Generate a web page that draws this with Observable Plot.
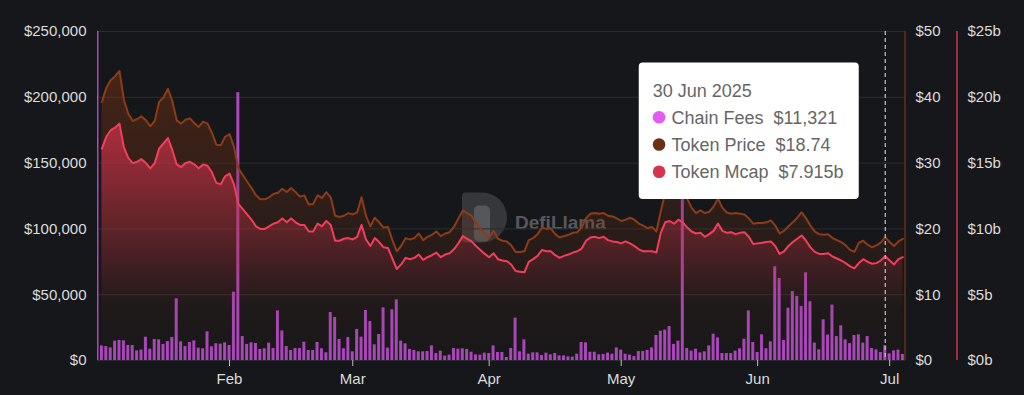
<!DOCTYPE html>
<html><head><meta charset="utf-8">
<script src="https://cdn.jsdelivr.net/npm/d3@7"></script>
<script src="https://cdn.jsdelivr.net/npm/@observablehq/plot@0.6"></script>
<style>
html,body{margin:0;padding:0;background:#16171a;}
#wrap{position:relative;width:1024px;height:395px;overflow:hidden;}
</style>
</head><body><div id="wrap"></div>
<script>
const FONT = '"Liberation Sans", Arial, Helvetica, sans-serif';
const BG = "#16171a";
const feeStart = new Date(Date.UTC(2025, 0, 2));
const priceStart = new Date(Date.UTC(2025, 0, 3));
const hoverDate = new Date(Date.UTC(2025, 5, 30));

// Chain fees (USD/day), Jan 2 – Jul 4 2025
const chainFees = [250000,
 11100,10600,9600,14700,15200,14900,11400,11400,7300,7900,
 17700,8600,16000,15700,12200,14400,17500,46900,14200,10600,
 13700,14900,9400,8900,21800,10400,12700,12400,13400,11400,
 51900,203500,18200,12200,13400,12900,8400,8900,13200,9100,
 37700,22500,10600,7600,9100,9100,13900,7600,7600,13700,
 8900,5800,36500,32700,16000,8900,17500,6600,23600,17700,
 38000,29600,11900,19800,40000,9400,38500,46100,14700,12700,
 8400,7600,6600,6600,6800,11100,5300,7100,3300,4100,
 9100,8600,8900,8400,6300,4300,4100,5600,5300,11100,
 6100,6100,2300,9100,32200,6600,15700,4800,5800,5800,
 3800,5600,4300,5300,3500,3500,2800,2500,4800,13700,
 13400,6300,6300,4300,4600,5600,4800,9600,7900,4800,
 4100,3000,6800,6800,7600,9600,19000,22300,23100,25800,
 12200,14700,180000,9100,7100,8600,5800,6600,11100,20000,
 17200,5300,5300,5300,7100,8900,16200,37700,13700,6100,
 19500,8900,14200,71200,62300,15200,39800,52400,48600,41000,
 66600,44600,13200,8100,30900,19300,42100,18200,26300,15700,
 12900,19000,19500,13200,18200,9100,8100,6100,11321,5100,
 7300,7900,4600];

// Token price (USD), Jan 3 – Jul 4 2025
const tokenPrice = [
 39.3,41.4,42.6,43.2,44.0,39.6,37.5,36.4,36.7,37.1,
 36.5,35.6,36.4,39.3,40.0,41.3,39.4,36.5,36.0,36.6,
 36.8,36.1,35.5,36.3,36.0,34.6,32.8,32.7,34.0,34.4,
 32.5,29.2,28.2,27.2,26.2,25.1,24.5,24.5,24.8,25.3,
 25.5,26.1,25.6,26.2,25.6,24.9,25.1,23.7,23.8,25.1,
 24.7,25.6,24.8,22.0,21.8,22.0,22.4,22.2,22.5,24.8,
 22.0,20.4,21.7,21.0,20.2,20.3,18.3,16.6,17.4,18.6,
 18.4,18.6,19.3,18.3,18.8,19.1,19.6,18.9,19.3,19.5,
 20.3,21.6,22.8,22.4,22.0,20.9,20.1,19.4,18.7,19.7,
 18.5,18.2,18.1,17.5,16.5,16.5,16.6,18.3,18.6,19.2,
 20.2,20.0,20.1,19.2,18.7,18.9,19.1,19.4,19.5,20.2,
 21.6,22.3,22.4,22.3,22.4,22.0,21.9,21.6,21.2,21.4,
 21.7,21.4,20.8,20.5,20.1,20.3,19.6,22.7,25.5,26.2,
 25.5,25.8,25.9,24.6,23.2,22.4,22.8,22.4,22.6,23.4,
 24.6,23.2,22.5,22.3,22.4,22.3,22.2,21.6,20.8,20.9,
 20.9,21.0,21.3,20.5,19.3,19.7,20.4,21.0,21.7,22.5,
 21.6,20.5,19.6,19.2,19.1,19.2,18.6,18.3,18.0,17.5,
 16.8,16.5,17.9,18.2,17.6,17.2,17.5,17.9,18.74,18.0,
 17.4,18.1,18.5];

// Token market cap (USD billions), Jan 3 – Jul 4 2025
const tokenMcap = [
 16.1,17.0,17.5,17.7,18.0,16.2,15.4,15.0,15.1,15.3,
 15.0,14.6,15.0,16.1,16.5,16.9,16.0,14.9,14.7,15.0,
 15.1,14.9,14.6,14.9,14.8,14.3,13.5,13.4,14.0,14.2,
 13.4,11.9,11.5,11.1,10.7,10.2,10.0,10.0,10.2,10.4,
 10.5,10.8,10.5,10.8,10.5,10.3,10.3,9.8,9.8,10.4,
 10.2,10.6,10.3,9.1,9.1,9.25,9.3,9.2,9.4,10.3,
 9.2,8.7,9.3,9.0,8.6,8.55,7.75,6.95,7.3,7.8,
 7.7,7.8,8.05,7.65,7.85,8.0,8.2,7.85,8.05,8.15,
 8.45,8.9,9.45,9.25,9.05,8.7,8.4,8.1,7.85,8.15,
 7.7,7.6,7.55,7.3,6.8,6.75,6.7,7.5,7.7,7.95,
 8.4,8.3,8.3,8.0,7.8,7.95,8.05,8.2,8.3,8.5,
 9.1,9.35,9.4,9.3,9.4,9.15,9.05,9.0,8.9,9.05,
 8.9,8.7,8.45,8.3,8.3,8.3,8.2,9.7,10.5,10.6,
 10.4,10.7,10.5,10.1,9.8,9.65,9.7,9.4,9.6,9.85,
 10.4,9.85,9.7,9.75,9.6,9.7,9.75,9.4,8.85,8.9,
 8.95,9.0,9.05,8.7,8.1,8.3,8.7,9.0,9.25,9.5,
 9.1,8.6,8.25,8.1,8.1,8.15,7.9,7.75,7.6,7.4,
 7.15,7.0,7.4,7.7,7.5,7.35,7.4,7.6,7.915,7.6,
 7.3,7.7,7.85];

const feeTicks = [0, 50000, 100000, 150000, 200000, 250000];
const priceTicks = [0, 10, 20, 30, 40, 50];
const mcapTicks = [0, 5, 10, 15, 20, 25];
const monthTicks = ["2025-02-01","2025-03-01","2025-04-01","2025-05-01","2025-06-01","2025-07-01"];
const seriesNames = ["Chain Fees", "Token Price", "Token Mcap"];
const seriesColors = ["#e15ef0", "#6b2f17", "#d6334e"];

const FEE_MAX = 250000;
const PRICE_K = FEE_MAX / priceTicks[priceTicks.length - 1];
const MCAP_K = FEE_MAX / mcapTicks[mcapTicks.length - 1];
const DAY = 86400000;

const feeRows = chainFees.map((v, i) => ({date: d3.utcDay.offset(feeStart, i), fee: v}));
const rows = tokenPrice.map((p, i) => ({date: d3.utcDay.offset(priceStart, i), price: p, mcap: tokenMcap[i]}));

const xMax = new Date(+d3.utcDay.offset(feeStart, feeRows.length - 1) + 0.6 * DAY);

const plot = Plot.plot({
  width: 1024, height: 395,
  marginLeft: 97, marginRight: 119, marginTop: 31, marginBottom: 35,
  style: {background: BG, color: "#dcdcdc", fontFamily: FONT, fontSize: "15px"},
  x: {type: "utc", domain: [feeStart, xMax]},
  y: {domain: [0, FEE_MAX]},
  marks: [
    Plot.gridY(feeTicks, {stroke: "#2c2d31", strokeOpacity: 1}),
    Plot.rectY(feeRows, {x1: d => new Date(+d.date - 0.34 * DAY), x2: d => new Date(+d.date + 0.34 * DAY), y: "fee", fill: "#aa48bd", clip: true}),
    Plot.areaY(rows, {x: "date", y: d => d.price * PRICE_K, fill: "url(#gPrice)"}),
    Plot.areaY(rows, {x: "date", y: d => d.mcap * MCAP_K, fill: "url(#gMcap)"}),
    Plot.lineY(rows, {x: "date", y: d => d.price * PRICE_K, stroke: "#8d3c17", strokeWidth: 2}),
    Plot.lineY(rows, {x: "date", y: d => d.mcap * MCAP_K, stroke: "#f23e5c", strokeWidth: 2}),
    Plot.ruleX([hoverDate], {stroke: "#c4c4c4", strokeWidth: 1.2, strokeDasharray: "4,3"}),
    Plot.axisY(feeTicks, {anchor: "left", tickSize: 0, tickPadding: 11, label: null, tickFormat: d => "$" + d3.format(",")(d)}),
    Plot.axisY(priceTicks.map(p => p * PRICE_K), {anchor: "right", tickSize: 0, tickPadding: 10, label: null, tickFormat: d => "$" + (d / PRICE_K)}),
    Plot.axisY(mcapTicks.map(m => m * MCAP_K), {anchor: "right", tickSize: 0, tickPadding: 62, label: null, tickFormat: d => "$" + (d / MCAP_K) + "b"}),
    Plot.axisX(monthTicks.map(s => new Date(s + "T00:00:00Z")), {tickSize: 6, tickPadding: 7, label: null, tickFormat: d3.utcFormat("%b"), stroke: "#bdbdbd"})
  ]
});

const svg = d3.select(plot);
const xs = plot.scale("x"), ys = plot.scale("y");
const yTop = ys.range[1], yBot = ys.range[0];
const xRight = xs.range[1];
const yAt = px => (px - yTop) / (yBot - yTop);

// gradients
const defs = svg.insert("defs", ":first-child");
function grad(id, color, stops) {
  const g = defs.append("linearGradient").attr("id", id)
    .attr("gradientUnits", "userSpaceOnUse").attr("x1", 0).attr("x2", 0).attr("y1", yTop).attr("y2", yBot);
  stops.forEach(([o, a]) => g.append("stop").attr("offset", o).attr("stop-color", color).attr("stop-opacity", a));
}
grad("gPrice", "#7a3314", [[0, 0.62], [yAt(110), 0.4], [yAt(230), 0.2], [1, 0.02]]);
grad("gMcap", "#d9334e", [[0, 0.82], [yAt(140), 0.64], [yAt(305), 0.0], [1, 0.0]]);

// watermark (behind series)
const wm = svg.insert("g", "defs + *").attr("text-anchor", "start");
const cx = (xs.range[0] + xs.range[1]) / 2;
const cy = (yTop + yBot) / 2;
wm.append("path")
  .attr("d", `M${cx-39},${cy+1} q0,-4 4,-4 h16 a25,25 0 0 1 0,50 h-16 q-4,0 -4,-4 z`)
  .attr("fill", "#36373b");
wm.append("rect").attr("x", cx - 27).attr("y", cy + 10).attr("width", 16).attr("height", 36).attr("rx", 5).attr("fill", "#56575b");
wm.append("text").attr("x", cx + 14).attr("y", cy + 33.5)
  .attr("font-family", FONT).attr("font-weight", "bold").attr("font-size", 19).attr("fill", "#58595d").text("DefiLlama");

// right axis lines
svg.append("line").attr("x1", xRight).attr("x2", xRight).attr("y1", yTop).attr("y2", yBot)
  .attr("stroke", "#7e3515").attr("stroke-width", 1.2);
svg.append("line").attr("x1", xRight + 52).attr("x2", xRight + 52).attr("y1", yTop).attr("y2", yBot)
  .attr("stroke", "#d6334e").attr("stroke-width", 1.5);

// tooltip for the hovered day
const hi = d3.utcDay.count(priceStart, hoverDate);
const fi = d3.utcDay.count(feeStart, hoverDate);
const hx = xs.apply(hoverDate);
const tx = hx - 246, ty = 62.5;
const tip = svg.append("g").attr("font-family", FONT).attr("text-anchor", "start");
tip.append("rect").attr("x", tx).attr("y", ty).attr("width", 220).attr("height", 136.5).attr("rx", 4).attr("fill", "#ffffff");
tip.append("text").attr("x", tx + 14).attr("y", ty + 34.5).attr("font-size", 18).attr("fill", "#666").text(d3.utcFormat("%-d %b %Y")(hoverDate));
const vals = [
  "$" + d3.format(",")(chainFees[fi]),
  "$" + d3.format(".2f")(tokenPrice[hi]),
  "$" + d3.format(".3f")(tokenMcap[hi]) + "b"
];
seriesNames.forEach((name, k) => {
  const by = ty + 61 + k * 27.2;
  tip.append("circle").attr("cx", tx + 20.3).attr("cy", by - 6.2).attr("r", 6.3).attr("fill", seriesColors[k]);
  const t = tip.append("text").attr("x", tx + 32.7).attr("y", by).attr("font-size", 18).attr("fill", "#666");
  t.append("tspan").text(name);
  t.append("tspan").attr("dx", 10).text(vals[k]);
});

document.getElementById("wrap").appendChild(plot);
</script>
</body></html>
